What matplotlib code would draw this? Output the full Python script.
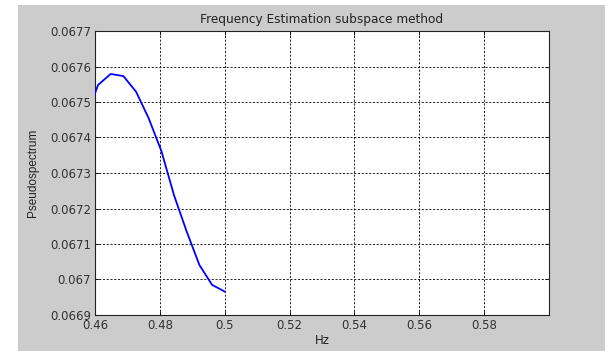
import numpy as np
import matplotlib
matplotlib.use('Agg')
import matplotlib.pyplot as plt
from matplotlib.patches import Rectangle

plt.rcParams['font.family'] = ['DejaVu Sans']
plt.rcParams['font.size'] = 8.5

# data
freq = [0.45703, 0.46094, 0.46484, 0.46875, 0.47266, 0.47656, 0.48047,
        0.48438, 0.48828, 0.49219, 0.49609, 0.50000]
pseudo = [0.067450, 0.067548, 0.067579, 0.067573, 0.067529, 0.067454, 0.067362,
          0.067237, 0.067135, 0.067041, 0.066985, 0.066966]
xticks = [0.46, 0.48, 0.5, 0.52, 0.54, 0.56, 0.58]
xticklabels = ['0.46', '0.48', '0.5', '0.52', '0.54', '0.56', '0.58']
yticks = [0.0669, 0.067, 0.0671, 0.0672, 0.0673, 0.0674, 0.0675, 0.0676, 0.0677]
yticklabels = ['0.0669', '0.067', '0.0671', '0.0672', '0.0673', '0.0674',
               '0.0675', '0.0676', '0.0677']

W, H = 616, 351
fig = plt.figure(figsize=(W / 100, H / 100), dpi=100)
fig.patch.set_facecolor('white')

# grey figure panel
fig.patches.append(Rectangle((18 / W, 0), (605 - 18) / W, (H - 5) / H,
                             transform=fig.transFigure, facecolor='#cccccc',
                             edgecolor='none', zorder=-10))

ax = fig.add_axes([95 / W, 1 - 315 / H, (549 - 95) / W, (315 - 31) / H])
ax.set_zorder(1)
ax.set_facecolor('white')
ax.plot(freq, pseudo, color='#0000ff', linewidth=1.3, zorder=3)

ax.set_xlim(0.46, 0.6)
ax.set_ylim(0.0669, 0.0677)
ax.set_xticks(xticks)
ax.set_xticklabels(xticklabels)
ax.set_yticks(yticks)
ax.set_yticklabels(yticklabels)
ax.tick_params(direction='in', length=3, width=0.6, color='black',
               top=True, right=True, labelcolor='#333333', pad=3)
ax.grid(True, color='black', linestyle=(0, (2.5, 2)), linewidth=0.6)
for s in ax.spines.values():
    s.set_linewidth(0.8)
    s.set_color('#222222')

ax.set_title('Frequency Estimation subspace method', fontsize=8.7, pad=6, color='#222222')
ax.set_xlabel('Hz', labelpad=1, color='#222222')
ax.set_ylabel('Pseudospectrum', labelpad=8, fontsize=8.5, color='#222222',
              family=['Liberation Sans Narrow', 'Liberation Sans'])

fig.savefig('out.png', dpi=100, facecolor=fig.get_facecolor())
